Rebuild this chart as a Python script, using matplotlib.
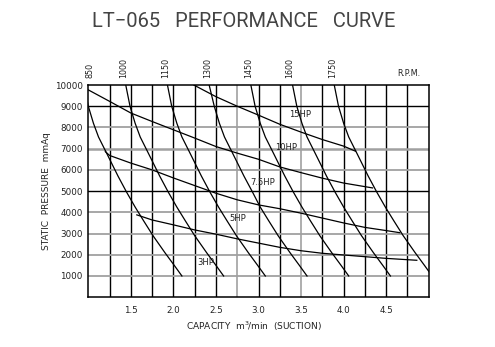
import matplotlib.pyplot as plt
from matplotlib.transforms import blended_transform_factory

# RPM curves: pressure levels and capacity for each speed
rpm_labels = ['850', '1000', '1150', '1300', '1450', '1600', '1750']
rpm_y = [10000, 9000, 8200, 7550, 6750, 5700, 4950, 4250, 3600, 2900, 2100, 1500, 1000]
rpm_x = [
    [0.95, 1.00, 1.06, 1.12, 1.22, 1.35, 1.45, 1.55, 1.65, 1.76, 1.90, 2.01, 2.10],
    [1.44, 1.49, 1.55, 1.61, 1.71, 1.84, 1.94, 2.04, 2.14, 2.25, 2.39, 2.50, 2.59],
    [1.93, 1.98, 2.04, 2.10, 2.20, 2.33, 2.43, 2.53, 2.63, 2.74, 2.88, 2.99, 3.08],
    [2.42, 2.48, 2.54, 2.60, 2.70, 2.83, 2.93, 3.02, 3.12, 3.23, 3.37, 3.48, 3.57],
    [2.91, 2.96, 3.02, 3.08, 3.18, 3.31, 3.41, 3.51, 3.61, 3.72, 3.86, 3.97, 4.06],
    [3.40, 3.45, 3.51, 3.57, 3.67, 3.80, 3.90, 4.00, 4.10, 4.21, 4.35, 4.46, 4.55],
    [3.89, 3.94, 4.00, 4.06, 4.16, 4.29, 4.39, 4.49, 4.59, 4.70, 4.84, 4.95, 5.04],
]
rpm_label_x = [1.02, 1.42, 1.91, 2.40, 2.88, 3.37, 3.87]

# horsepower lines
hp15_x = [2.24, 2.50, 2.75, 3.00, 3.25, 3.50, 3.75, 4.00, 4.14]
hp15_y = [10000, 9450, 9000, 8580, 8150, 7780, 7430, 7120, 6880]
hp10_x = [1.00, 1.25, 1.50, 1.75, 2.00, 2.25, 2.50, 2.75, 3.00, 3.25, 3.50, 3.75, 4.00, 4.34]
hp10_y = [9770, 9230, 8680, 8280, 7890, 7500, 7100, 6790, 6500, 6140, 5870, 5610, 5380, 5150]
hp75_x = [1.20, 1.25, 1.50, 1.75, 2.00, 2.25, 2.50, 2.75, 3.00, 3.25, 3.50, 3.75, 4.00, 4.25, 4.50, 4.66]
hp75_y = [6860, 6680, 6320, 6000, 5620, 5260, 4900, 4590, 4350, 4170, 3960, 3730, 3500, 3290, 3140, 3040]
hp5_x = [1.57, 1.75, 2.00, 2.25, 2.50, 2.75, 3.00, 3.25, 3.50, 3.75, 4.00, 4.25, 4.50, 4.86]
hp5_y = [3880, 3640, 3410, 3170, 2970, 2750, 2550, 2350, 2190, 2070, 1990, 1910, 1830, 1740]

x_ticks = [1.5, 2.0, 2.5, 3.0, 3.5, 4.0, 4.5]
y_ticks = [1000, 2000, 3000, 4000, 5000, 6000, 7000, 8000, 9000, 10000]

fig = plt.figure(figsize=(4.95, 3.47), dpi=100)
ax = fig.add_axes([0.1784, 0.1435, 0.6877, 0.6115])
ax.set_xlim(1.0, 5.0)
ax.set_ylim(0, 10000)

# grid - scan has a mix of black and grey lines
grey_x = [2.75, 3.5]
for i in range(1, 16):
    gx = 1.0 + 0.25 * i
    if gx in grey_x:
        ax.axvline(gx, color='#a8a8a8', lw=1.3, zorder=1)
    else:
        ax.axvline(gx, color='black', lw=1.0, zorder=1)
for gy in y_ticks[:-1]:
    if gy in (5000, 9000):
        ax.axhline(gy, color='black', lw=1.0, zorder=1)
    elif gy == 7000:
        ax.axhline(gy, color='#a0a0a0', lw=1.8, zorder=1)
    else:
        ax.axhline(gy, color='#a0a0a0', lw=1.3, zorder=1)

for xs in rpm_x:
    ax.plot(xs, rpm_y, color='black', lw=0.9, zorder=3)

for xs, ys in [(hp15_x, hp15_y), (hp10_x, hp10_y), (hp75_x, hp75_y), (hp5_x, hp5_y)]:
    ax.plot(xs, ys, color='black', lw=0.9, zorder=3)

hp_font = dict(fontsize=6, ha='center', va='center', color='#222222', zorder=4)
ax.text(3.49, 8590, '15HP', **hp_font)
ax.text(3.32, 7050, '10HP', **hp_font)
ax.text(3.05, 5400, '7.5HP', **hp_font)
ax.text(2.76, 3720, '5HP', **hp_font)
ax.text(2.38, 1650, '3HP', **hp_font)

trans = blended_transform_factory(ax.transData, ax.transAxes)
for lab, lx in zip(rpm_labels, rpm_label_x):
    ax.text(lx, 1.035, lab, transform=trans, rotation=90, ha='center', va='bottom',
            fontsize=5.8, family=['Liberation Sans Narrow', 'DejaVu Sans'], color='#222222')
ax.text(4.77, 1.035, 'R.P.M.', transform=trans, ha='center', va='bottom',
        fontsize=5.8, color='#222222')

for s in ax.spines.values():
    s.set_linewidth(1.1)
    s.set_zorder(5)

ax.set_xticks(x_ticks)
ax.set_xticklabels([f'{v:.1f}' for v in x_ticks])
ax.set_yticks(y_ticks)
ax.set_yticklabels([str(v) for v in y_ticks])
ax.tick_params(length=0, labelsize=6.3, labelcolor='#222222')
ax.tick_params(axis='x', pad=6)
ax.tick_params(axis='y', pad=4)

ax.text(-0.124, 0.5, 'STATIC  PRESSURE  mmAq', transform=ax.transAxes, rotation=90,
        ha='center', va='center', fontsize=6.5, color='#222222')
fig.text(0.513, 0.0605, 'CAPACITY  m$^3\\!$/min  (SUCTION)', ha='center', va='center',
         fontsize=6.5, color='#222222')
fig.text(0.493, 0.937, 'LT\u2212065   PERFORMANCE   CURVE', ha='center', va='center',
         fontsize=14.5, family=['Roboto', 'DejaVu Sans'], fontweight='normal', color='#444444')

fig.savefig('out.png', dpi=100)
